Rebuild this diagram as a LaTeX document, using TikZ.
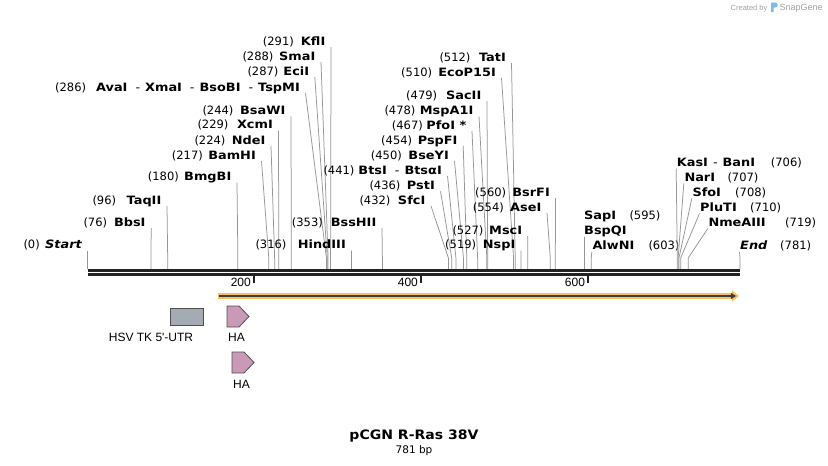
\documentclass[tikz,border=0pt]{standalone}
\usepackage{fontspec}
\setmainfont{DejaVu Sans}
\newfontfamily\nmf{DejaVu Sans}[FakeStretch=1.12]
\newfontfamily\ttlf{DejaVu Sans}[FakeStretch=1.08]
\newfontfamily\arialf{Liberation Sans}
\usetikzlibrary{arrows.meta}
\definecolor{cutline}{RGB}{150,150,150}
\definecolor{bbcol}{RGB}{34,34,34}
\definecolor{orangeF}{RGB}{247,190,100}
\definecolor{darkline}{RGB}{60,60,60}
\definecolor{pinkF}{RGB}{201,153,181}
\definecolor{grayF}{RGB}{165,171,179}
\definecolor{featedge}{RGB}{80,80,80}
\definecolor{logoblue}{RGB}{120,190,235}
\definecolor{sgray}{RGB}{160,160,160}
\tikzset{
  num/.style={inner sep=0pt, font=\fontsize{11.5}{13}\selectfont},
  nm/.style={inner sep=0pt, font=\nmf\bfseries\fontsize{11.5}{13}\selectfont},
  cut/.style={draw=cutline, line width=0.75pt},
  flbl/.style={inner sep=0pt, font=\arialf\fontsize{12}{14}\selectfont},
  tick/.style={draw=bbcol, line width=1.6pt},
  bbline/.style={draw=bbcol, line width=2.6pt},
  feat/.style={draw=featedge, line width=0.8pt}
}
\newcommand\enzL[7]{%
  \node[nm, anchor=base east] (#1) at (#6,#3) {#5};
  \node[num, anchor=base west] (#1n) at (#2,#3) {(#4)};
  \coordinate (#1s) at ({87.5+#7*0.8354},269);
  \draw[cut] ([shift={(5.5,2)}]#1.base east) -- ([yshift=11pt]#1s) -- (#1s);
}
\newcommand\enzR[7]{%
  \node[nm, anchor=base west] (#1) at (#2,#3) {#4};
  \node[num, anchor=base west] (#1n) at (#5,#3) {(#6)};
  \coordinate (#1s) at ({87.5+#7*0.8354},269);
  \draw[cut] ([shift={(-0.5,2.5)}]#1.base west) -- ([yshift=11pt]#1s) -- (#1s);
}
\newcommand\sepL{\hspace{8pt}{\mdseries -}\hspace{5pt}}
\newcommand\sepR{\hspace{5pt}{\mdseries -}\hspace{5pt}}
\begin{document}
\begin{tikzpicture}[x=1pt,y=-1pt]
\useasboundingbox (0,0) rectangle (828,466);
\fill[white] (0,0) rectangle (828,466);

% watermark
\node[anchor=base west, inner sep=0pt, text=sgray, font=\arialf\fontsize{7.5}{9}\selectfont] (cb) at (730.5,10) {Created by};
\fill[logoblue] (771,2.5) -- (775,2.5) .. controls (778.5,2.5) and (778.5,7.5) .. (775,7.5) -- (773.5,7.5) -- (773.5,12) -- (771,12) -- cycle;
\node[anchor=base west, inner sep=0pt, text=sgray, font=\arialf\fontsize{9}{11}\selectfont] (sg) at (779.3,10.5) {SnapGene};

% left-type enzyme labels
\enzL{start}{23.3}{248.7}{0}{\itshape Start}{82}{0}
\enzL{bbs}{83.3}{226}{76}{BbsI}{145.7}{76}
\enzL{taq}{92.3}{204}{96}{TaqII}{161.5}{96}
\enzL{bmg}{147.7}{180.7}{180}{BmgBI}{231.5}{180}
\enzL{bam}{171.7}{159}{217}{BamHI}{256}{217}
\enzL{nde}{194.3}{144}{224}{NdeI}{265.5}{224}
\enzL{xcm}{197.3}{128.5}{229}{XcmI}{273}{229}
\enzL{bsa}{202.3}{114.3}{244}{BsaWI}{285.5}{244}
\enzL{ava}{55}{91}{286}{AvaI\sepL XmaI\sepL BsoBI\sepL TspMI}{300}{286}
\enzL{eci}{247.3}{75}{287}{EciI}{309.3}{287}
\enzL{sma}{242.3}{60}{288}{SmaI}{315.5}{288}
\enzL{kfl}{262.7}{45}{291}{KflI}{325.5}{291}
\enzL{hind}{255.3}{248.7}{316}{HindIII}{346}{316}
\enzL{bss}{291.7}{226}{353}{BssHII}{376.5}{353}
\enzL{sfc}{359.3}{204}{432}{SfcI}{425.5}{432}
\enzL{pst}{369.3}{189.3}{436}{PstI}{435}{436}
\enzL{bts}{323.3}{174}{441}{BtsI\sepL BtsαI}{442}{441}
\enzL{bse}{370.7}{159}{450}{BseYI}{449}{450}
\enzL{psp}{381}{144}{454}{PspFI}{457.7}{454}
\enzL{pfo}{391.7}{129}{467}{PfoI *}{466.5}{467}
\enzL{msp}{384.3}{114.3}{478}{MspA1I}{473.5}{478}
\enzL{sac}{406}{99}{479}{SacII}{481.5}{479}
\enzL{eco}{401}{76}{510}{EcoP15I}{496}{510}
\enzL{tat}{439.3}{61}{512}{TatI}{506}{512}
\enzL{nsp}{445}{248.7}{519}{NspI}{515.6}{519}
\enzL{msc}{452.3}{234}{527}{MscI}{522.3}{527}
\enzL{ase}{472.7}{211}{554}{AseI}{541.5}{554}
\enzL{bsr}{475}{196}{560}{BsrFI}{550}{560}

% right-type enzyme labels
\node[nm, anchor=base west] (sap) at (584,219.3) {SapI};
\node[num, anchor=base west] (sapn) at (629.3,219.3) {(595)};
\node[nm, anchor=base west] (bspq) at (584,234.3) {BspQI};
\coordinate (saps) at ({87.5+595*0.8354},269);
\draw[cut] ([shift={(0.5,2.5)}]bspq.base west) -- (saps);
\enzR{alw}{592.3}{249.3}{AlwNI}{648.3}{603}{603}
\enzR{kas}{676.7}{166}{KasI\sepR BanI}{770.7}{706}{706}
\enzR{nar}{684.3}{181}{NarI}{727.3}{707}{707}
\enzR{sfo}{692.3}{196}{SfoI}{735}{708}{708}
\enzR{plu}{700}{211}{PluTI}{750}{710}{710}
\enzR{nme}{708.3}{226}{NmeAIII}{785}{719}{719}
\enzR{endl}{740}{249.3}{\itshape End}{780}{781}{781}

% backbone
\draw[bbline] (87.5,270.3) -- (740.2,270.3);
\draw[bbline] (87.5,274.7) -- (740.2,274.7);
\foreach \p/\t in {200/t2,400/t4,600/t6}{
  \coordinate (\t) at ({87.5+\p*0.8354-0.6},276);
  \draw[tick] (\t) -- ++(0,7);
  \node[flbl, anchor=base east] at ([xshift=-3pt,yshift=-10pt]\t) {\p};
}

% orange feature arrow
\coordinate (oa) at (218,296);
\coordinate (ob) at (739,296);
\draw[orangeF, line width=5.5pt, -{Triangle[length=7pt,width=11pt]}] (oa) -- (ob);
\draw[darkline, line width=1.5pt, -{Triangle[length=5pt,width=6pt]}] ([xshift=1pt]oa) -- ([xshift=-3pt]ob);

% features
\filldraw[feat, fill=grayF] (170,308) rectangle (203.5,325);
\node[flbl] (utr) at (151,337.5) {HSV TK 5\textquotesingle-UTR};
\filldraw[feat, fill=pinkF] (227,306) -- (239,306) -- (249,316.5) -- (239,327) -- (227,327) -- cycle;
\node[flbl] (ha1) at (236.5,337.5) {HA};
\filldraw[feat, fill=pinkF] (232,352) -- (244,352) -- (254,362.5) -- (244,373) -- (232,373) -- cycle;
\node[flbl] (ha2) at (241.5,384) {HA};

% title
\node[inner sep=0pt, font=\ttlf\bfseries\fontsize{13}{15}\selectfont] (title) at (414,436) {pCGN R-Ras 38V};
\node[inner sep=0pt, font=\fontsize{10.5}{12}\selectfont] (len) at (414,450.5) {781 bp};
\end{tikzpicture}
\end{document}
